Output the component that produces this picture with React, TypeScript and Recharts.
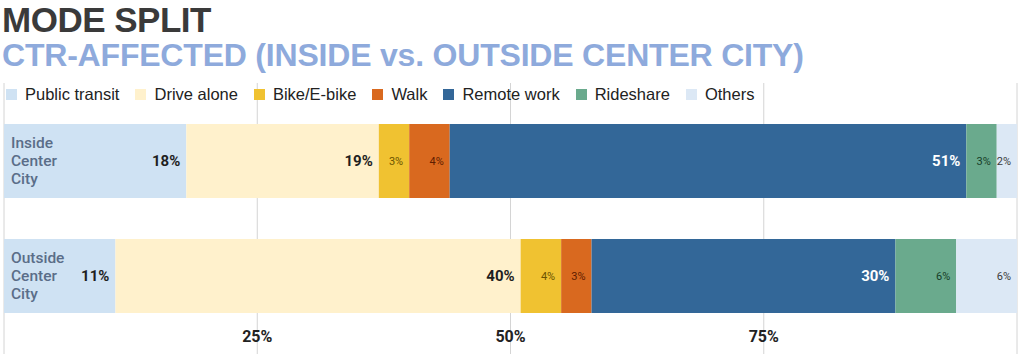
import React from "react";
import {
  BarChart,
  Bar,
  XAxis,
  YAxis,
  LabelList,
  ReferenceLine,
  CartesianGrid,
} from "recharts";

const categories = ["Inside Center City", "Outside Center City"];
const publicTransit = [18, 11];
const driveAlone = [19, 40];
const bikeEbike = [3, 4];
const walk = [4, 3];
const remoteWork = [51, 30];
const rideshare = [3, 6];
const others = [2, 6];
const gridTicks = [25, 50, 75];

const series = [
  { key: "transit", name: "Public transit", values: publicTransit, color: "#cfe2f3", text: "#1f1f1f", big: true },
  { key: "drive", name: "Drive alone", values: driveAlone, color: "#fff1cc", text: "#1f1f1f", big: true },
  { key: "bike", name: "Bike/E-bike", values: bikeEbike, color: "#f0c231", text: "#6b5200", big: false },
  { key: "walk", name: "Walk", values: walk, color: "#d9691f", text: "#5e1d00", big: false },
  { key: "remote", name: "Remote work", values: remoteWork, color: "#336798", text: "#ffffff", big: true },
  { key: "ride", name: "Rideshare", values: rideshare, color: "#6aaa8d", text: "#163d28", big: false },
  { key: "others", name: "Others", values: others, color: "#dce8f5", text: "#3a3a3a", big: false },
];

const data = categories.map((c, i) => {
  const row: Record<string, string | number> = { category: c };
  series.forEach((s) => {
    row[s.key] = s.values[i];
  });
  return row;
});

const CategoryLabel = (props: any) => {
  const { x, y, height, value } = props;
  const lines = String(value).split(" ");
  const cy = y + height / 2;
  const lh = 18;
  return (
    <text
      x={x + 7}
      y={cy - ((lines.length - 1) * lh) / 2 + 5}
      fill="#5a6d88"
      fontSize={15.5}
      fontWeight={500}
      fontFamily="Roboto, sans-serif"
    >
      {lines.map((l, i) => (
        <tspan key={i} x={x + 7} dy={i === 0 ? 0 : lh}>
          {l}
        </tspan>
      ))}
    </text>
  );
};

export default function App() {
  return (
    <div
      style={{
        position: "absolute",
        left: 0,
        top: 0,
        width: 1024,
        height: 354,
        overflow: "hidden",
        background: "#fff",
      }}
    >
      <BarChart
        width={1024}
        height={354}
        data={data}
        layout="vertical"
        margin={{ top: 83, right: 7, bottom: 0, left: 4 }}
        barSize={74}
        style={{ position: "absolute", left: 0, top: 0 }}
      >
        <CartesianGrid horizontal={false} vertical stroke="#d4d4d4" />
        <XAxis type="number" domain={[0, 100]} ticks={gridTicks} hide />
        <YAxis
          type="category"
          dataKey="category"
          width={0}
          tick={false}
          tickLine={false}
          axisLine={{ stroke: "#7a7a7a", strokeWidth: 1.5 }}
          padding={{ top: 20, bottom: 21 }}
        />
        {series.map((s, idx) => (
          <Bar
            key={s.key}
            dataKey={s.key}
            name={s.name}
            stackId="a"
            fill={s.color}
            isAnimationActive={false}
          >
            {idx === 0 && <LabelList dataKey="category" content={CategoryLabel} />}
            <LabelList
              dataKey={s.key}
              position="insideRight"
              offset={6}
              formatter={(v: any) => `${v}%`}
              fill={s.text}
              fontSize={s.big ? 15 : 11}
              fontWeight={s.big ? 700 : 400}
              fontFamily="Roboto, sans-serif"
            />
          </Bar>
        ))}
        {gridTicks.map((t) => (
          <ReferenceLine
            key={t}
            x={t}
            stroke="#d4d4d4"
            strokeOpacity={0}
            label={{
              value: `${t}%`,
              position: "insideBottom",
              offset: 12,
              fill: "#222",
              fontSize: 16,
              fontWeight: 700,
              fontFamily: "Roboto, sans-serif",
            }}
          />
        ))}
      </BarChart>
      <div
        style={{
          position: "absolute",
          left: 2,
          top: 0,
          fontFamily: "'Liberation Sans', Arial, sans-serif",
          fontWeight: 700,
          fontSize: 35,
          lineHeight: "39px",
          letterSpacing: -0.5,
          color: "#3a3a3a",
          whiteSpace: "nowrap",
        }}
      >
        MODE SPLIT
      </div>
      <div
        style={{
          position: "absolute",
          left: 2,
          top: 38,
          fontFamily: "'Liberation Sans', Arial, sans-serif",
          fontWeight: 700,
          fontSize: 32,
          lineHeight: "34px",
          letterSpacing: -0.2,
          color: "#8eaadc",
          whiteSpace: "nowrap",
        }}
      >
        CTR-AFFECTED (INSIDE vs. OUTSIDE CENTER CITY)
      </div>
      <div
        style={{
          position: "absolute",
          left: 6,
          top: 85,
          display: "flex",
          alignItems: "center",
          fontFamily: "'Liberation Sans', Arial, sans-serif",
          fontSize: 16.5,
          lineHeight: "19px",
          color: "#222",
          whiteSpace: "nowrap",
        }}
      >
        {series.map((s) => (
          <div key={s.key} style={{ display: "flex", alignItems: "center", marginRight: 16 }}>
            <span
              style={{
                display: "inline-block",
                width: 11,
                height: 11,
                background: s.color,
                marginRight: 8,
              }}
            />
            <span>{s.name}</span>
          </div>
        ))}
      </div>
    </div>
  );
}
